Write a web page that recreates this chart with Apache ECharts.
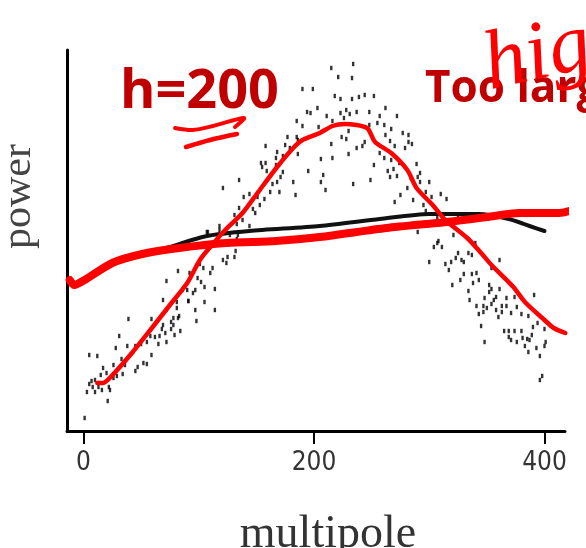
<!DOCTYPE html>
<html><head><meta charset="utf-8">
<style>html,body{margin:0;padding:0;background:#fff}#c{width:586px;height:548px}</style>
<script src="https://cdn.jsdelivr.net/npm/echarts@6/dist/echarts.min.js"></script>
</head><body><div id="c"></div>
<script>
const xTicks = [0, 200, 400];
const dotsRise = [[5,76],[12,75],[1,13],[21,30],[3,39],[10,39],[16,41],[23,41],[5,47],[8,44],[13,44],[22,44],[7,50],[10,51],[15,56],[20,58],[26,53],[29,55],[34,57],[17,63],[26,66],[33,72],[36,66],[47,64],[45,60],[52,68],[55,67],[59,76],[28,83],[38,85],[45,85],[50,87],[43,79],[65,87],[72,89],[58,95],[55,89],[31,95],[66,95],[62,94],[71,98],[79,96],[68,102],[76,102],[84,100],[69,106],[78,106],[82,113],[76,109],[78,113],[83,115],[98,110],[39,112],[59,112],[72,121],[81,123],[91,130],[97,121],[105,129],[114,121],[69,131],[81,129],[91,130],[86,141],[90,141],[95,138],[97,141],[105,144],[114,142],[72,150],[99,153],[102,149],[82,160],[92,158],[101,167],[104,163],[110,158],[112,163],[121,171],[124,168],[125,174],[131,174],[132,180],[133,192],[134,196],[127,196],[108,199]];
const dotsPeak = [[107,199],[118,201],[121,243],[135,251],[139,234],[144,237],[151,234],[157,232],[153,226],[147,222],[149,218],[131,216],[138,211],[133,207],[118,205],[144,205],[135,223],[162,239],[170,239],[184,236],[168,249],[164,247],[159,260],[155,264],[158,268],[154,268],[167,266],[173,259],[171,254],[195,260],[186,277],[182,249],[179,283],[168,279],[173,275],[167,273],[158,285],[175,286],[177,294],[186,291],[204,304],[199,342],[190,342],[194,319],[197,318],[185,310],[190,305],[203,323],[185,294],[234,367],[215,363],[221,354],[233,353],[218,335],[223,332],[233,332],[239,334],[244,336],[252,335],[262,323],[272,315],[211,315],[223,318],[228,321],[231,317],[226,313],[237,319],[248,319],[257,315],[216,310],[255,308],[261,306],[267,302],[248,306],[277,298],[282,296],[262,296],[266,290],[270,285],[282,289],[285,287],[279,283],[230,300],[224,294],[228,292],[215,287],[244,289],[242,285],[237,283],[230,277],[216,273],[206,272],[257,278],[261,273],[267,271],[252,266],[274,268],[289,267],[264,260],[269,262],[272,255],[266,254],[208,256],[206,249],[210,241],[234,247],[249,251],[292,258],[284,253],[290,254],[292,249],[300,249],[281,243],[275,236],[270,229],[286,231],[297,239],[302,234],[310,237],[315,232],[295,226],[297,220],[307,213],[325,214],[290,199],[321,196]];
const dotsFall = [[307,188],[304,184],[308,190],[311,184],[340,188],[300,169],[314,167],[319,169],[317,161],[323,173],[325,178],[334,178],[337,176],[328,171],[330,169],[361,171],[354,163],[320,146],[327,151],[330,157],[337,157],[341,158],[343,151],[338,148],[334,140],[335,131],[352,146],[354,142],[361,142],[352,139],[348,133],[358,134],[356,131],[354,127],[367,133],[374,134],[391,136],[341,125],[347,125],[350,123],[347,119],[343,117],[358,121],[363,125],[367,125],[363,119],[360,114],[371,118],[376,124],[380,117],[386,115],[394,108],[390,104],[400,102],[345,105],[365,100],[369,100],[374,100],[380,100],[389,96],[369,94],[371,91],[376,89],[381,93],[385,92],[387,91],[348,89],[383,85],[386,79],[393,83],[400,85],[401,89],[396,75],[398,55],[396,51]];
const fitFlat = [[-12,151],[-8,146],[1,151],[25,168],[51,177],[83,183],[124,188],[167,190],[205,194],[263,203],[315,209],[350,214],[378,218],[413,218],[433,224],[436,226]];
const smoothBlack = [[50,175],[75,184],[107,195],[144,200],[205,205],[257,212],[300,217],[343,217],[369,212],[387,205],[400,200]];
const fitPeak = [[12,48],[17,48],[26,57],[42,78],[58,101],[75,126],[90,148],[101,171],[110,184],[123,201],[138,218],[151,238],[168,264],[182,283],[190,291],[205,298],[216,305],[227,307],[246,303],[253,289],[267,278],[281,261],[289,243],[303,226],[314,211],[333,193],[345,178],[354,166],[373,144],[383,129],[400,111],[408,103],[418,98]];

function dots(data){return {type:'scatter',data,symbol:'rect',symbolSize:[2.4,4.4],itemStyle:{color:'#000'},z:2,silent:true};}
function stroke(data,color,width,z){return {type:'line',data,smooth:0.25,showSymbol:false,clip:false,z,silent:true,
  lineStyle:{color,width,cap:'round',join:'round'}};}

const chart = echarts.init(document.getElementById('c'),null,{renderer:'canvas'});
chart.setOption({
  animation:false,backgroundColor:'#fff',
  grid:{left:67,top:50,width:498,height:381,outerBoundsMode:'none',containLabel:false},
  xAxis:{type:'value',min:-14.3,max:417.8,splitLine:{show:false},
    name:'multipole',nameLocation:'middle',nameGap:81,
    nameTextStyle:{fontFamily:'Liberation Serif',fontSize:46,color:'#333',padding:[0,0,0,24]},
    axisLine:{onZero:false,lineStyle:{color:'#000',width:3}},
    axisTick:{show:true,length:13,customValues:xTicks,lineStyle:{color:'#000',width:2}},
    axisLabel:{customValues:xTicks,margin:19,fontFamily:'DejaVu Sans Condensed, Roboto, sans-serif',fontSize:26,color:'#333',formatter:v=>String(v)}},
  yAxis:{type:'value',min:0,max:381,splitLine:{show:false},
    name:'power',nameLocation:'middle',nameGap:27,nameRotate:90,
    nameTextStyle:{fontFamily:'Liberation Serif',fontSize:42,color:'#444',padding:[0,0,0,88]},
    axisLine:{onZero:false,show:true,lineStyle:{color:'#000',width:3}},axisTick:{show:false},axisLabel:{show:false}},
  series:[dots(dotsRise),dots(dotsPeak),dots(dotsFall),
    stroke(smoothBlack,'#111',4,3),stroke(fitPeak,'#ff0000',4.5,4),stroke(fitFlat,'#ff0000',8,5)],
  graphic:[
    {type:'text',left:120,top:66,z:10,style:{text:'h=200',fontFamily:'Open Sans',fontWeight:'bold',fontSize:54,fill:'#c00000'}},
    {type:'text',left:425,top:67,z:10,style:{text:'Too large',fontFamily:'Open Sans',fontWeight:'bold',fontSize:44,fill:'#c00000'}},
    {type:'text',x:476,y:27,rotation:0.22,z:11,style:{text:'high',fontFamily:'Liberation Serif',fontStyle:'italic',fontSize:84,fill:'#ff0000'}},
    {type:'polyline',z:10,shape:{points:[[175,128],[193,130],[213,126],[244,118],[235,127]],smooth:0.3},style:{stroke:'#ff0000',lineWidth:4,fill:null,lineCap:'round'}},
    {type:'polyline',z:10,shape:{points:[[186,147],[210,140],[237,134]],smooth:0.3},style:{stroke:'#ff0000',lineWidth:4.5,fill:null,lineCap:'round'}}
  ]
});
</script></body></html>
